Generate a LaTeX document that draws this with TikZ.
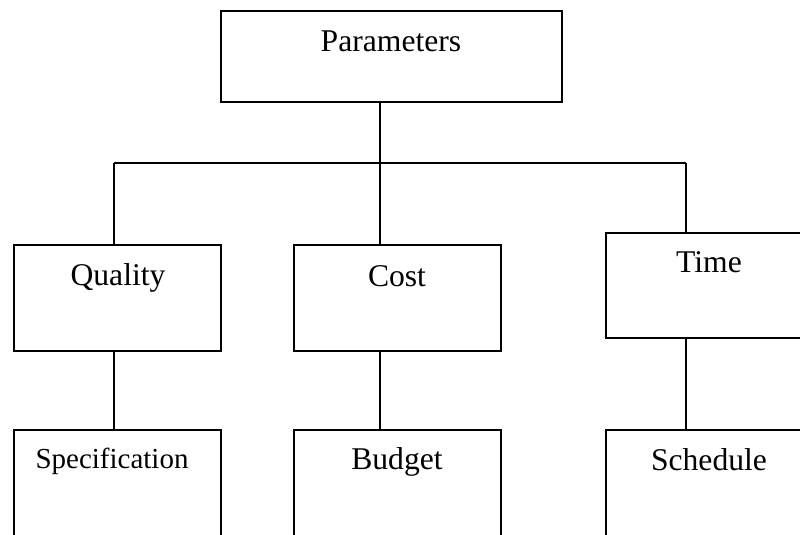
\documentclass[tikz,border=0pt]{standalone}
\usepackage{fontspec}
\setmainfont{Liberation Serif}
\usetikzlibrary{calc}

\tikzset{
  box/.style={draw, line width=0.8pt, minimum width=4.14cm, minimum height=2.12cm, inner sep=0pt},
  lbl/.style={font=\fontsize{18}{20}\selectfont, inner sep=0pt, anchor=base},
  wire/.style={line width=0.6pt}
}

\begin{document}
\begin{tikzpicture}

\useasboundingbox (0,0) rectangle (16,10.68);
\clip (0,0) rectangle (16,10.68);

% top box
\node[box, minimum width=6.82cm, minimum height=1.82cm] (par) at (7.83,9.55) {};
\node[lbl] (partxt) at (7.82,9.64) {Parameters};

% middle row
\node[box] (qual) at (2.35,4.72) {};
\node[box] (cost) at (7.95,4.72) {};
\node[box, minimum height=2.10cm] (time) at (14.19,4.97) {};
\node[lbl] (qualtxt) at (2.36,4.97) {Quality};
\node[lbl] (costtxt) at (7.94,4.95) {Cost};
\node[lbl] (timetxt) at (14.18,5.22) {Time};

% bottom row
\node[box, minimum height=2.4cm] (spec) at (2.35,0.88) {};
\node[box, minimum height=2.4cm] (budg) at (7.95,0.88) {};
\node[box, minimum height=2.4cm] (sched) at (14.19,0.88) {};
\node[lbl, font=\fontsize{16.5}{18}\selectfont] (spectxt) at (2.24,1.32) {Specification};
\node[lbl] (budgtxt) at (7.94,1.29) {Budget};
\node[lbl] (schedtxt) at (14.18,1.27) {Schedule};

% bus
\coordinate (hub) at (7.6,7.42);
\coordinate (qtap) at (2.28,7.42);
\coordinate (ttap) at (13.72,7.42);

\draw[wire] (par.south -| hub) -- (hub);
\draw[wire] (qtap) -- (ttap);
\draw[wire] (qtap) -- (qtap |- qual.north);
\draw[wire] (hub) -- (hub |- cost.north);
\draw[wire] (ttap) -- (ttap |- time.north);

\draw[wire] (qual.south -| qtap) -- (spec.north -| qtap);
\draw[wire] (cost.south -| hub) -- (budg.north -| hub);
\draw[wire] (time.south -| ttap) -- (sched.north -| ttap);

\end{tikzpicture}
\end{document}
